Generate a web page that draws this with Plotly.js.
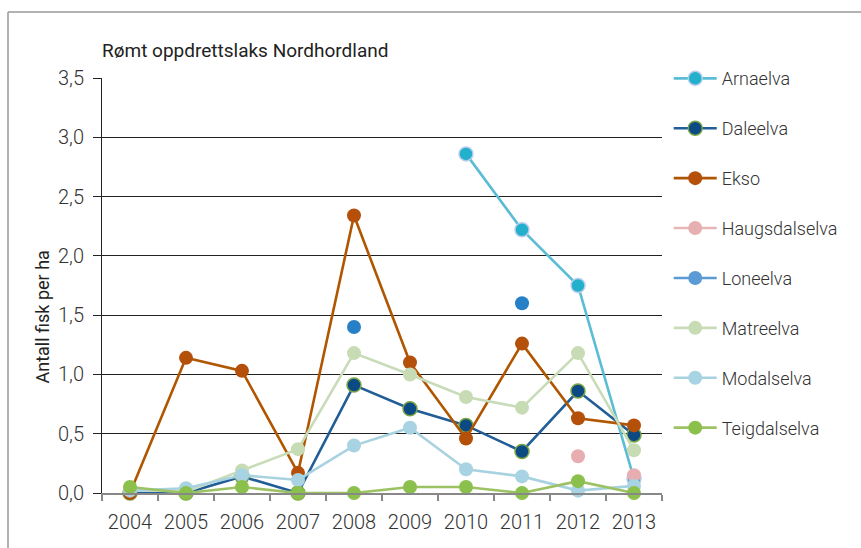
<!DOCTYPE html>
<html>
<head>
<meta charset="utf-8">
<script src="https://cdn.plot.ly/plotly-3.0.1.min.js"></script>
<style>html,body{margin:0;padding:0;background:#fff;}#chart{width:861px;height:548px;}</style>
</head>
<body>
<div id="chart"></div>
<script>
const years = ['2004','2005','2006','2007','2008','2009','2010','2011','2012','2013'];
const arnaelva      = [null, null, null, null, null, null, 2.86, 2.22, 1.75, 0.12];
const daleelva      = [0.00, 0.00, 0.14, 0.00, 0.91, 0.71, 0.57, 0.35, 0.86, 0.49];
const ekso          = [0.00, 1.14, 1.03, 0.17, 2.34, 1.10, 0.46, 1.26, 0.63, 0.57];
const haugsdalselva = [null, null, null, null, null, null, null, null, 0.31, 0.15];
const loneelva      = [null, null, null, null, 1.40, null, null, 1.60, null, null];
const matreelva     = [0.03, 0.01, 0.19, 0.37, 1.18, 1.00, 0.81, 0.72, 1.18, 0.36];
const modalselva    = [0.02, 0.04, 0.15, 0.11, 0.40, 0.55, 0.20, 0.14, 0.02, 0.06];
const teigdalselva  = [0.05, 0.00, 0.05, 0.00, 0.00, 0.05, 0.05, 0.00, 0.10, 0.00];
const seriesNames = ['Arnaelva','Daleelva','Ekso','Haugsdalselva','Loneelva','Matreelva','Modalselva','Teigdalselva'];
const chartTitle = 'Rømt oppdrettslaks Nordhordland';
const yTitle = 'Antall fisk per ha';

const FONT = 'Roboto, "Open Sans", sans-serif';
const MS = 14;

function tr(name, y, lineColor, markerColor, outline, opts) {
  return Object.assign({
    type: 'scatter', mode: 'lines+markers', name: name, x: years, y: y,
    legendgroup: name, cliponaxis: false,
    line: {color: lineColor, width: 2.6},
    marker: {size: MS, color: markerColor, line: {color: outline || markerColor, width: outline ? 1.5 : 0}}
  }, opts || {});
}

const nullArr = years.map(() => null);

const data = [
  tr(seriesNames[0], arnaelva, '#5bbcd5', '#22b0cb', '#b9cdee'),
  tr(seriesNames[1], daleelva, '#215d96', '#0b4a82', '#7aa446'),
  tr(seriesNames[2], ekso, '#b15600', '#b5500a'),
  tr(seriesNames[3], nullArr, '#e6b5b6', '#e6b0b2'),
  tr(seriesNames[3], haugsdalselva, '#e6b5b6', '#e8adb0', null, {mode: 'markers', showlegend: false}),
  tr(seriesNames[4], nullArr, '#5b9bd5', '#5b9bd5'),
  tr(seriesNames[4], loneelva, '#5b9bd5', '#2580c8', null, {mode: 'markers', showlegend: false}),
  tr(seriesNames[5], matreelva, '#c9dcb9', '#c7dcb5'),
  tr(seriesNames[6], modalselva, '#a9d2e0', '#a8d3e2'),
  tr(seriesNames[7], teigdalselva, '#9dc264', '#8cc04c')
];

const layout = {
  width: 861, height: 548,
  paper_bgcolor: '#fff', plot_bgcolor: '#fff',
  separators: ', ',
  font: {family: FONT, color: '#333', size: 19, weight: 300},
  margin: {l: 102, r: 199, t: 78, b: 55, pad: 0},
  showlegend: true,
  title: {text: chartTitle, font: {family: FONT, size: 19, color: '#222', weight: 400},
          xref: 'paper', x: 0, xanchor: 'left', yref: 'container', y: 1 - 50/548, yanchor: 'middle'},
  xaxis: {
    type: 'category', range: [-0.5, 9.5], tickson: 'boundaries',
    ticks: 'outside', ticklen: 6, tickwidth: 1.5, tickcolor: '#888',
    showline: true, linecolor: '#888', linewidth: 1.5,
    showgrid: false, zeroline: false, fixedrange: true,
    tickfont: {family: FONT, size: 20, color: '#333', weight: 300}, ticklabelstandoff: 10
  },
  yaxis: {
    range: [0, 3.5], dtick: 0.5, tick0: 0, tickformat: '.1f',
    ticks: 'outside', ticklen: 8, tickwidth: 1, tickcolor: '#222',
    showline: true, linecolor: '#222', linewidth: 1,
    showgrid: true, gridcolor: '#222', gridwidth: 1, zeroline: false, fixedrange: true,
    tickfont: {family: FONT, size: 20, color: '#333', weight: 300}, ticklabelstandoff: 5
  },
  legend: {
    x: 1.012, xanchor: 'left', y: 1.043, yanchor: 'top',
    traceorder: 'grouped', tracegroupgap: 23.5, itemwidth: 43,
    maxheight: 520,
    font: {family: FONT, size: 18, color: '#333', weight: 300},
    bgcolor: 'rgba(0,0,0,0)', itemclick: false, itemdoubleclick: false
  },
  annotations: [{
    text: yTitle, textangle: -90, xref: 'paper', x: -59/560, xanchor: 'center',
    yref: 'y', y: 1.48, yanchor: 'middle', showarrow: false,
    font: {family: FONT, size: 18, color: '#222', weight: 400}
  }],
  shapes: [
    {type: 'line', xref: 'paper', yref: 'paper', x0: -94/560, x1: 760/560, y0: 481/415, y1: 481/415,
     line: {color: '#999', width: 1.5}},
    {type: 'line', xref: 'paper', yref: 'paper', x0: -94/560, x1: -94/560, y0: 481/415, y1: -56/415,
     line: {color: '#999', width: 1.5}}
  ]
};

Plotly.newPlot('chart', data, layout, {displayModeBar: false, staticPlot: true});
</script>
</body>
</html>
